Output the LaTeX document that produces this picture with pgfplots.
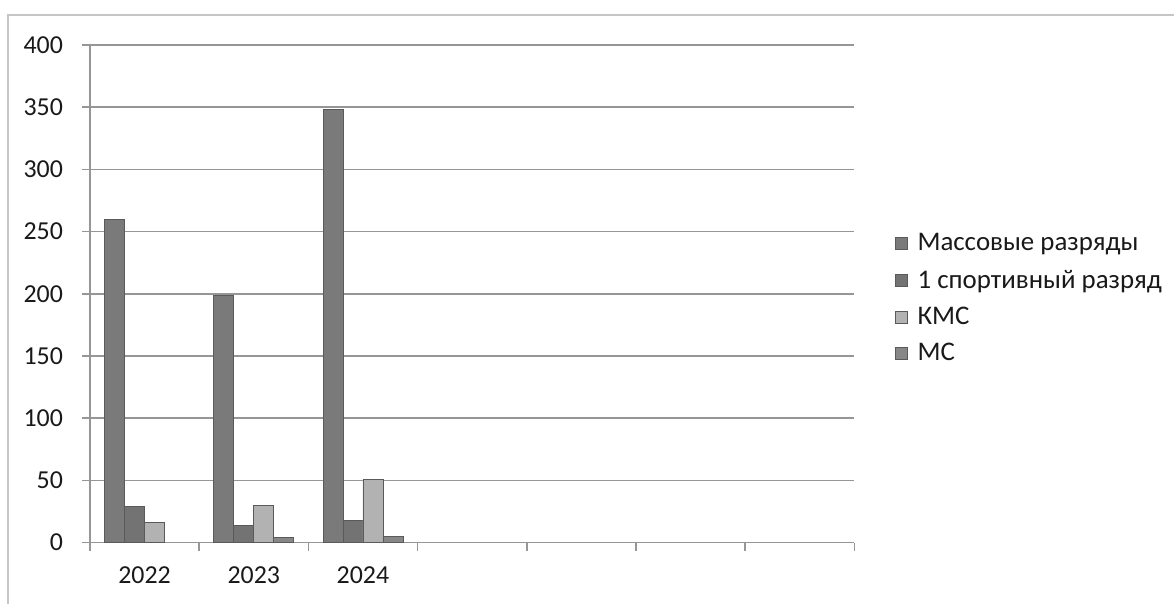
\documentclass[border=0pt]{standalone}
\usepackage{fontspec}
\setmainfont{Carlito}
\usepackage{pgfplots}
\pgfplotsset{compat=1.18}
\definecolor{cA}{RGB}{122,122,122}
\definecolor{cB}{RGB}{115,115,115}
\definecolor{cC}{RGB}{178,178,178}
\definecolor{cD}{RGB}{135,135,135}
\definecolor{edge}{RGB}{90,90,90}
\definecolor{gridc}{RGB}{150,150,150}
\definecolor{txt}{RGB}{25,25,25}
\begin{document}
\begin{tikzpicture}[x=1bp,y=1bp]
\path (0,0) rectangle (587.5,302);
\draw[gray!45, line width=0.8bp] (4,0) -- (4,294.5) -- (587.5,294.5);
\begin{axis}[
  at={(45bp,30.5bp)}, anchor=south west, scale only axis,
  width=382.5bp, height=249bp,
  xmin=-0.5, xmax=6.5, ymin=0, ymax=400,
  ytick={0,50,...,400},
  xtick={-0.5,0.5,...,6.5}, xticklabels={},
  extra x ticks={0,1,2}, extra x tick labels={2022,2023,2024},
  extra x tick style={major tick length=0pt, grid=none},
  axis x line*=bottom, axis y line*=left,
  axis line style={draw=gridc, line width=0.8bp},
  tick style={draw=gridc, line width=0.8bp},
  tick align=outside, major tick length=4bp,
  ymajorgrids, grid style={draw=gridc, line width=0.8bp},
  /pgf/number format/assume math mode=true,
  ticklabel style={font=\fontsize{13}{15}\selectfont, text=txt},
  yticklabel style={xshift=-6bp},
  xticklabel style={yshift=-8.5bp},
  ybar=0pt, bar width=0.183,
  legend style={at={(1.045,0.49)}, anchor=west, draw=none, fill=none,
    font=\fontsize{13.5}{15}\selectfont, text=txt,
    row sep=4bp, legend cell align=left},
  legend image code/.code={\draw[#1, bar width=0pt, bar shift=0pt] (0bp,-3bp) rectangle (6bp,3bp); \path[draw=none, fill=none] (0bp,0bp) -- (9bp,0bp);},
]
\addplot[fill=cA, draw=edge] coordinates {(0,260) (1,199) (2,348)};
\addplot[fill=cB, draw=edge] coordinates {(0,29) (1,14) (2,18)};
\addplot[fill=cC, draw=edge] coordinates {(0,16) (1,30) (2,51)};
\addplot[fill=cD, draw=edge] coordinates {(1,4) (2,5)};
\legend{Массовые разряды, 1 спортивный разряд, КМС, МС}
\end{axis}
\end{tikzpicture}
\end{document}
